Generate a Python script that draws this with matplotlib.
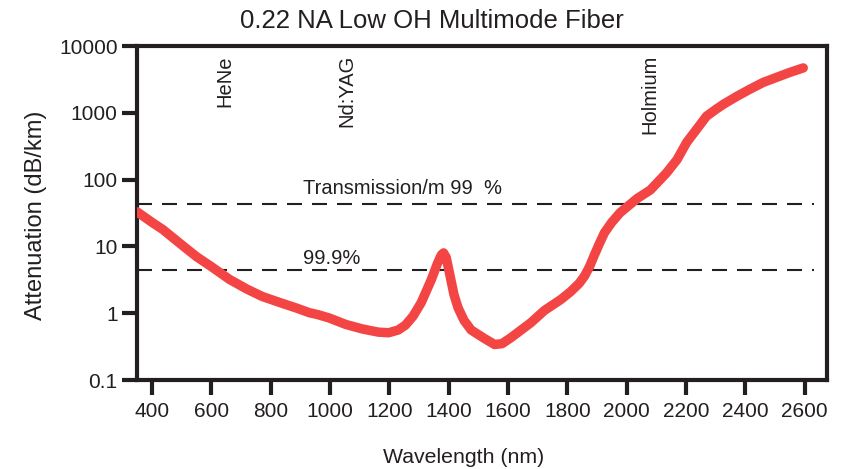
import matplotlib
matplotlib.use("Agg")
import matplotlib.pyplot as plt
from matplotlib.ticker import NullLocator

plt.rcParams['font.family'] = ['Liberation Sans', 'DejaVu Sans']

# Attenuation curve (nm, dB/km)
wavelength = [350, 400, 437, 500, 551, 600, 662, 720, 772, 830, 886, 930, 960,
              997, 1053, 1110, 1164, 1198, 1230, 1254, 1280, 1308, 1342, 1362, 1375,
              1383, 1392, 1405, 1418, 1432, 1452, 1476, 1520, 1555, 1580, 1610, 1677,
              1723, 1778, 1811, 1840, 1858, 1875, 1891, 1908, 1925, 1950, 1978, 2035,
              2080, 2135, 2170, 2202, 2240, 2269, 2300, 2327, 2370, 2414, 2460, 2548,
              2595]
attenuation = [33, 23, 17.9, 10.6, 7.0, 5.0, 3.2, 2.3, 1.78, 1.45, 1.2, 1.02, 0.95,
               0.85, 0.68, 0.58, 0.52, 0.51, 0.56, 0.66, 0.9, 1.45, 3.2, 5.5, 7.4,
               8.0, 6.8, 3.6, 1.9, 1.2, 0.78, 0.56, 0.42, 0.34, 0.35, 0.43, 0.72,
               1.1, 1.6, 2.1, 2.8, 3.6, 5.0, 7.4, 11, 16, 23, 32, 52,
               70, 127, 200, 360, 600, 890, 1120, 1350, 1750, 2240, 2850, 4000,
               4700]

threshold_values = [43.6, 4.36]
threshold_labels = ["Transmission/m 99  %", "99.9%"]
threshold_label_y = [60, 5.5]

lasers = ["HeNe", "Nd:YAG", "Holmium"]
laser_wl = [645, 1057, 2079]

xticks = [400, 600, 800, 1000, 1200, 1400, 1600, 1800, 2000, 2200, 2400, 2600]
yticks = [0.1, 1, 10, 100, 1000, 10000]
ytick_labels = ["0.1", "1", "10", "100", "1000", "10000"]

dark = '#231f20'
red = '#f44545'

fig = plt.figure(figsize=(8.56, 4.69), dpi=100)
ax = fig.add_axes([137/856, 1-380/469, (827-137)/856, (380-46)/469])

ax.plot(wavelength, attenuation, color=red, lw=6.8, solid_capstyle='round',
        solid_joinstyle='round', zorder=3)

for v in threshold_values:
    ax.plot([350, 2630], [v, v], color=dark, lw=1.5, linestyle=(0, (7.2, 4.8)), zorder=2)

for lab, yv in zip(threshold_labels, threshold_label_y):
    ax.text(909, yv, lab, fontsize=14.5, color=dark, ha='left', va='baseline')

for name, wl in zip(lasers, laser_wl):
    ax.text(wl, 0.973, name, transform=ax.get_xaxis_transform(), rotation=90,
            ha='center', va='top', fontsize=14.5, color=dark)

ax.set_yscale('log')
ax.set_xlim(350, 2675)
ax.set_ylim(0.1, 10000)
ax.set_xticks(xticks)
ax.set_xticklabels([str(t) for t in xticks])
ax.set_yticks(yticks)
ax.set_yticklabels(ytick_labels)
ax.yaxis.set_minor_locator(NullLocator())
ax.xaxis.set_minor_locator(NullLocator())

for s in ax.spines.values():
    s.set_linewidth(3)
    s.set_color(dark)
ax.tick_params(axis='both', which='major', direction='out', length=11, width=3,
               color=dark, labelsize=15, labelcolor=dark)
ax.tick_params(axis='x', pad=5)
ax.tick_params(axis='y', pad=3)

fig.text(432/856, 1-21/469, "0.22 NA Low OH Multimode Fiber", fontsize=18.5,
         color=dark, ha='center', va='center')
fig.text(36/856, 1-215/469, "Attenuation (dB/km)", fontsize=17, color=dark,
         rotation=90, ha='center', va='center')
fig.text(464/856, 1-457/469, "Wavelength (nm)", fontsize=15.3, color=dark,
         ha='center', va='center')

fig.savefig("out.png", dpi=100)
